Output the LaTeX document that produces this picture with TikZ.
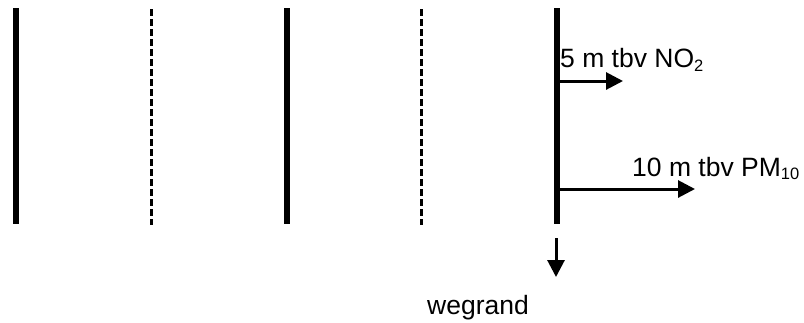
\documentclass[tikz,border=0pt]{standalone}
\usepackage{fontspec}
\setmainfont{Liberation Sans}
\usetikzlibrary{arrows.meta}
\newcommand\mylblfont{\fontsize{26.5}{31}\selectfont}
\newcommand\mysub[1]{\raisebox{-3.5pt}{\fontsize{16.5}{18}\selectfont #1}}
\begin{document}
\begin{tikzpicture}[x=1pt,y=-1pt,
  solidline/.style={line width=6.5pt},
  dashline/.style={line width=3pt,dash pattern=on 7pt off 3pt},
  arr/.style={line width=3pt,-{Triangle[length=17pt,width=17pt]}},
  lbl/.style={inner sep=0pt,anchor=base west,font=\mylblfont}]
\useasboundingbox (0,0) rectangle (804,322);
\coordinate (l1t) at (16,8);    \coordinate (l1b) at (16,224);
\coordinate (d1t) at (151.5,9); \coordinate (d1b) at (151.5,225);
\coordinate (l2t) at (287,8);   \coordinate (l2b) at (287,224);
\coordinate (d2t) at (421.5,9); \coordinate (d2b) at (421.5,225);
\coordinate (l3t) at (557,8);   \coordinate (l3b) at (557,224);
\draw[solidline] (l1t) -- (l1b);
\draw[dashline] (d1t) -- (d1b);
\draw[solidline] (l2t) -- (l2b);
\draw[dashline] (d2t) -- (d2b);
\draw[solidline] (l3t) -- (l3b);
\coordinate (a1s) at (557,81);  \coordinate (a1e) at (623,81);
\coordinate (a2s) at (557,189); \coordinate (a2e) at (695,189);
\coordinate (a3s) at (556,238); \coordinate (a3e) at (556,277);
\draw[arr] (a1s) -- (a1e);
\draw[arr] (a2s) -- (a2e);
\draw[arr] (a3s) -- (a3e);
\node[lbl] (t1) at (560,67.5) {5 m tbv NO\mysub{2}};
\node[lbl] (t2) at (632,176) {10 m tbv PM\mysub{10}};
\node[lbl] (t3) at (427,314) {wegrand};
\end{tikzpicture}
\end{document}
